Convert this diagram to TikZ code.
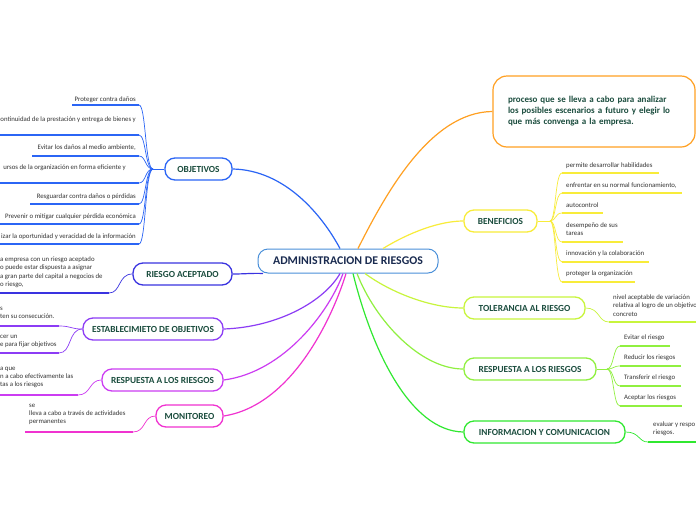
\documentclass[tikz,border=0pt]{standalone}
\usepackage{fontspec}
\setmainfont{Carlito}
\usepackage{tikz}
\usetikzlibrary{positioning}
\definecolor{rootblue}{HTML}{4A90D9}
\definecolor{rootink}{HTML}{1A2B50}
\definecolor{topicink}{HTML}{1B4D3E}
\definecolor{leafink}{HTML}{333333}
\definecolor{mapblue}{HTML}{2B65F5}
\definecolor{mapindigo}{HTML}{3A33E0}
\definecolor{mapviolet}{HTML}{8C3CF5}
\definecolor{mapmagenta}{HTML}{CC3CF2}
\definecolor{mappink}{HTML}{F032D0}
\definecolor{maporange}{HTML}{FFA022}
\definecolor{mapyellow}{HTML}{F8EC3A}
\definecolor{mapchart}{HTML}{C8F53C}
\definecolor{maplime}{HTML}{90F040}
\definecolor{mapgreen}{HTML}{30E830}
\tikzset{
  rootbox/.style={
    draw=rootblue, fill=white, text=rootink,
    rounded corners=10pt, minimum height=24pt, minimum width=180pt,
    font=\fontsize{11.8}{13}\selectfont\bfseries, line width=1pt
  },
  topicbox/.style={
    draw=#1, fill=white, text=topicink,
    rounded corners=10pt, minimum height=22pt,
    font=\fontsize{9.3}{10}\selectfont\bfseries, line width=1.3pt
  },
  notebox/.style={
    draw=maporange, fill=white, text=topicink,
    rounded corners=14pt, minimum height=71pt, text width=172pt,
    inner xsep=15pt, align=left, line width=1.2pt,
    font=\fontsize{9}{11}\selectfont\bfseries
  },
  leaftext/.style={text=leafink, align=left, inner sep=0pt,
    font=\fontsize{6.8}{8.4}\selectfont},
  branch/.style={draw=#1, line width=1.2pt},
  twig/.style={draw=#1, line width=0.7pt},
  leafline/.style={draw=#1, line width=1.6pt}
}
\begin{document}
\begin{tikzpicture}[x=1pt,y=-1pt]
\useasboundingbox[fill=white] (0,0) rectangle (696,520);

% central topic and main branches
\node[rootbox] (root) at (348,261) {ADMINISTRACION DE RIESGOS};
\node[topicbox=mapblue, minimum width=67pt] (objetivos) at (198.5,169) {OBJETIVOS};
\node[topicbox=mapindigo, minimum width=99pt] (aceptado) at (182.5,274) {RIESGO ACEPTADO};
\node[topicbox=mapviolet, minimum width=140pt] (establec) at (153,329) {ESTABLECIMIETO DE OBJETIVOS};
\node[topicbox=mapmagenta, minimum width=121pt] (respizq) at (162.5,380) {RESPUESTA A LOS RIESGOS};
\node[topicbox=mappink, minimum width=67pt] (monitoreo) at (189.5,416) {MONITOREO};
\node[notebox] (proceso) at (594,111.5) {proceso que se lleva a cabo para analizar\\los posibles escenarios a futuro y elegir lo\\que más convenga a la empresa.};
\node[topicbox=mapyellow, minimum width=73pt] (beneficios) at (500.5,221) {BENEFICIOS};
\node[topicbox=mapchart, minimum width=121pt] (tolerancia) at (524.5,308) {TOLERANCIA AL RIESGO};
\node[topicbox=maplime, minimum width=132pt] (respder) at (530,369) {RESPUESTA A LOS RIESGOS};
\node[topicbox=mapgreen, minimum width=161pt] (informacion) at (544.5,432) {INFORMACION Y COMUNICACION};

\draw[branch=mapblue] (objetivos.east) .. controls (285,170) and (322,215) .. ([xshift=-8pt]root.north);
\draw[branch=mapindigo] (aceptado.east) .. controls (245,274) and (252,273) .. ([xshift=-85pt]root.south);
\draw[branch=mapviolet] (establec.east) .. controls (280,327) and (325,300) .. ([xshift=-8pt]root.south);
\draw[branch=mapmagenta] (respizq.east) .. controls (285,372) and (330,310) .. ([xshift=-5pt]root.south);
\draw[branch=mappink] (monitoreo.east) .. controls (295,405) and (335,310) .. ([xshift=-2pt]root.south);
\draw[branch=maporange] ([xshift=10pt]root.north) .. controls (385,195) and (430,112) .. (proceso.west);
\draw[branch=mapyellow] ([xshift=35pt]root.north) .. controls (410,232) and (440,221) .. (beneficios.west);
\draw[branch=mapchart] ([xshift=17pt]root.south) .. controls (390,292) and (430,308) .. (tolerancia.west);
\draw[branch=maplime] ([xshift=9pt]root.south) .. controls (375,320) and (420,369) .. (respder.west);
\draw[branch=mapgreen] ([xshift=5pt]root.south) .. controls (372,350) and (410,431) .. (informacion.west);

% objetivos
\coordinate (objhub) at (153,169);
\draw[twig=mapblue] (objetivos.west) -- (objhub);
\node[leaftext, anchor=north east] (obj1) at (136,96.6) {Proteger contra daños};
\node[leaftext, anchor=north east] (obj2) at (136,116.6) {ontinuidad de la prestación y entrega de bienes y};
\node[leaftext, anchor=north east] (obj3) at (136,144.6) {Evitar los daños al medio ambiente,};
\node[leaftext, anchor=north east] (obj4) at (126,164.6) {ursos de la organización en forma eficiente y};
\node[leaftext, anchor=north east] (obj5) at (136,193.6) {Resguardar contra daños o pérdidas};
\node[leaftext, anchor=north east] (obj6) at (136,213.6) {Prevenir o mitigar cualquier pérdida económica};
\node[leaftext, anchor=north east] (obj7) at (136,233.6) {izar la oportunidad y veracidad de la información};
\coordinate (o1) at (139,105); \coordinate (o2) at (139,135);
\coordinate (o3) at (139,156); \coordinate (o4) at (139,183);
\coordinate (o5) at (139,204); \coordinate (o6) at (139,224);
\coordinate (o7) at (139,244);
\draw[twig=mapblue] (objhub) .. controls (145,169) and (146,105) .. (o1);
\draw[twig=mapblue] (objhub) .. controls (145,169) and (146,135) .. (o2);
\draw[twig=mapblue] (objhub) .. controls (145,169) and (146,156) .. (o3);
\draw[twig=mapblue] (objhub) .. controls (145,169) and (146,183) .. (o4);
\draw[twig=mapblue] (objhub) .. controls (145,169) and (146,204) .. (o5);
\draw[twig=mapblue] (objhub) .. controls (145,169) and (146,224) .. (o6);
\draw[twig=mapblue] (objhub) .. controls (145,169) and (146,244) .. (o7);
\draw[leafline=mapblue] (o1) -- (72,105);
\draw[leafline=mapblue] (o2) -- (0,135);
\draw[leafline=mapblue] (o3) -- (32,156);
\draw[leafline=mapblue] (o4) -- (0,183);
\draw[leafline=mapblue] (o5) -- (30,204);
\draw[leafline=mapblue] (o6) -- (0,224);
\draw[leafline=mapblue] (o7) -- (0,244);

% riesgo aceptado
\node[leaftext, anchor=north west] (acep1) at (0,256.6) {a empresa con un riesgo aceptado\\o puede estar dispuesta a asignar\\a gran parte del capital a negocios de\\o riesgo,};
\coordinate (a1) at (109,293);
\draw[twig=mapindigo] (aceptado.west) .. controls (118,274) and (121,293) .. (a1);
\draw[leafline=mapindigo] (a1) -- (0,293);

% establecimiento de objetivos
\node[leaftext, anchor=north west] (est1) at (0,306.6) {s\\ten su consecución.};
\node[leaftext, anchor=north west] (est2) at (0,334.6) {cer un\\e para fijar objetivos};
\coordinate (e1) at (59,326); \coordinate (e2) at (59,353);
\draw[twig=mapviolet] (establec.west) .. controls (70,329) and (72,326) .. (e1);
\draw[twig=mapviolet] (establec.west) .. controls (68,329) and (72,353) .. (e2);
\draw[leafline=mapviolet] (e1) -- (0,326);
\draw[leafline=mapviolet] (e2) -- (0,353);

% respuesta a los riesgos (izquierda)
\node[leaftext, anchor=north west] (rizq1) at (0,366.6) {a que\\n a cabo efectivamente las\\tas a los riesgos};
\coordinate (r1) at (78,395);
\draw[twig=mapmagenta] (respizq.west) .. controls (89,380) and (91,395) .. (r1);
\draw[leafline=mapmagenta] (r1) -- (0,395);

% monitoreo
\node[leaftext, anchor=north west] (mon1) at (29,403.6) {se\\lleva a cabo a través de actividades\\permanentes};
\coordinate (m1) at (133,432);
\draw[twig=mappink] (monitoreo.west) .. controls (143,416) and (146,432) .. (m1);
\draw[leafline=mappink] (m1) -- (25,432);

% beneficios
\coordinate (benhub) at (550,221);
\draw[twig=mapyellow] (beneficios.east) -- (benhub);
\node[leaftext, anchor=north west] (ben1) at (566,162.6) {permite desarrollar habilidades};
\node[leaftext, anchor=north west] (ben2) at (566,182.6) {enfrentar en su normal funcionamiento,};
\node[leaftext, anchor=north west] (ben3) at (566,202.6) {autocontrol};
\node[leaftext, anchor=north west] (ben4) at (566,222.6) {desempeño de sus\\tareas};
\node[leaftext, anchor=north west] (ben5) at (566,250.6) {innovación y la colaboración};
\node[leaftext, anchor=north west] (ben6) at (566,270.6) {proteger la organización};
\coordinate (b1) at (562,173); \coordinate (b2) at (562,193);
\coordinate (b3) at (562,213); \coordinate (b4) at (562,242);
\coordinate (b5) at (562,262); \coordinate (b6) at (562,282);
\draw[twig=mapyellow] (benhub) .. controls (556,221) and (555,173) .. (b1);
\draw[twig=mapyellow] (benhub) .. controls (556,221) and (555,193) .. (b2);
\draw[twig=mapyellow] (benhub) .. controls (556,221) and (555,213) .. (b3);
\draw[twig=mapyellow] (benhub) .. controls (556,221) and (555,242) .. (b4);
\draw[twig=mapyellow] (benhub) .. controls (556,221) and (555,262) .. (b5);
\draw[twig=mapyellow] (benhub) .. controls (556,221) and (555,282) .. (b6);
\draw[leafline=mapyellow] (b1) -- (659,173);
\draw[leafline=mapyellow] (b2) -- (682,193);
\draw[leafline=mapyellow] (b3) -- (603,213);
\draw[leafline=mapyellow] (b4) -- (623,242);
\draw[leafline=mapyellow] (b5) -- (649,262);
\draw[leafline=mapyellow] (b6) -- (635,282);

% tolerancia al riesgo
\node[leaftext, anchor=north west] (tol1) at (613,294.6) {nivel aceptable de variación\\relativa al logro de un objetivo\\concreto};
\coordinate (t1) at (609,322);
\draw[twig=mapchart] (tolerancia.east) .. controls (600,308) and (598,322) .. (t1);
\draw[leafline=mapchart] (t1) -- (696,322);

% respuesta a los riesgos (derecha)
\coordinate (rdhub) at (607,369);
\draw[twig=maplime] (respder.east) -- (rdhub);
\node[leaftext, anchor=north west] (rder1) at (624,334.6) {Evitar el riesgo};
\node[leaftext, anchor=north west] (rder2) at (624,354.6) {Reducir los riesgos};
\node[leaftext, anchor=north west] (rder3) at (624,374.6) {Transferir el riesgo};
\node[leaftext, anchor=north west] (rder4) at (624,394.6) {Aceptar los riesgos};
\coordinate (d1) at (620,346); \coordinate (d2) at (620,366);
\coordinate (d3) at (620,386); \coordinate (d4) at (620,406);
\draw[twig=maplime] (rdhub) .. controls (614,369) and (613,346) .. (d1);
\draw[twig=maplime] (rdhub) .. controls (614,369) and (613,366) .. (d2);
\draw[twig=maplime] (rdhub) .. controls (614,369) and (613,386) .. (d3);
\draw[twig=maplime] (rdhub) .. controls (614,369) and (613,406) .. (d4);
\draw[leafline=maplime] (d1) -- (670,346);
\draw[leafline=maplime] (d2) -- (681,366);
\draw[leafline=maplime] (d3) -- (681,386);
\draw[leafline=maplime] (d4) -- (682,406);

% informacion y comunicacion
\node[leaftext, anchor=north west] (inf1) at (653,421.6) {evaluar y respo\\riesgos.};
\coordinate (i1) at (648,442);
\draw[twig=mapgreen] (informacion.east) .. controls (640,432) and (638,442) .. (i1);
\draw[leafline=mapgreen] (i1) -- (696,442);
\end{tikzpicture}
\end{document}
